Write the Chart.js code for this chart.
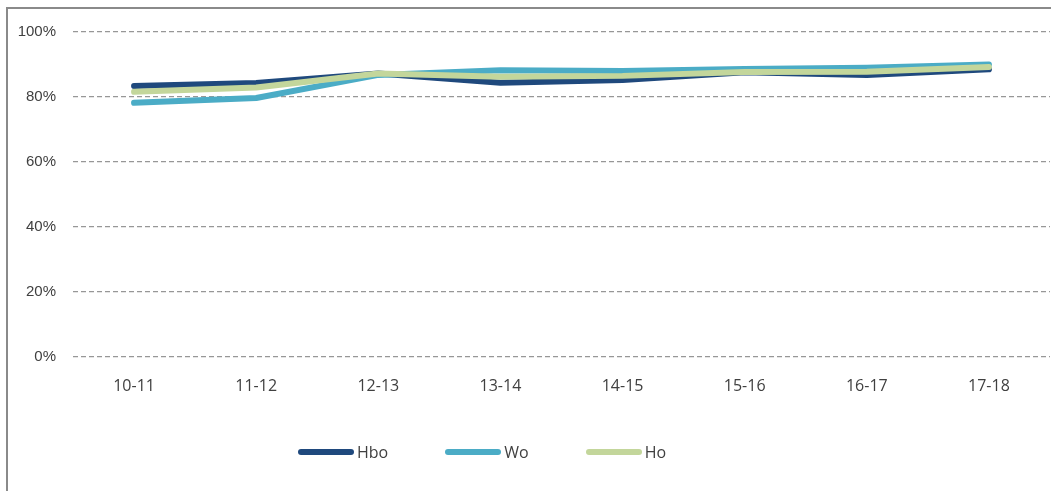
<!DOCTYPE html>
<html>
<head>
<meta charset="utf-8">
<script src="https://cdn.jsdelivr.net/npm/chart.js@4.4.1/dist/chart.umd.min.js"></script>
<style>
  body { margin: 0; background: #fff; }
  #frame {
    position: absolute; left: 6px; top: 7px; width: 1045px; height: 484px;
    border-top: 2px solid #8a8a8a; border-left: 2px solid #8a8a8a;
    box-sizing: border-box;
  }
  #mycanvas { position: absolute; left: 0; top: 0; }
  #legend {
    position: absolute; left: 290px; top: 432px;
    display: flex; font-family: "Open Sans", sans-serif; font-size: 16px; color: #404040;
  }
  .item { display: flex; align-items: center; margin-right: 57px; }
  .swatch { width: 56px; height: 6px; border-radius: 3px; margin-right: 3px; }
</style>
</head>
<body>
<div id="frame">
  <canvas id="mycanvas" width="1043" height="482"></canvas>
  <div id="legend"></div>
</div>
<script>
var years = ['10-11', '11-12', '12-13', '13-14', '14-15', '15-16', '16-17', '17-18'];
var seriesNames = ['Hbo', 'Wo', 'Ho'];
var seriesColors = ['#1F497D', '#4BACC6', '#C3D69B'];
var hbo = [83.4, 84.3, 87.2, 84.4, 85.2, 87.6, 86.8, 88.5];
var wo = [78.2, 79.7, 86.8, 88.2, 88.0, 88.6, 89.0, 90.0];
var ho = [81.6, 82.9, 87.2, 86.2, 86.5, 87.7, 87.8, 89.2];
var yTicks = [0, 20, 40, 60, 80, 100];

var seriesData = [hbo, wo, ho];
var datasets = [];
for (var i in seriesNames) {
	datasets.push({
		label : seriesNames[i],
		data : seriesData[i],
		borderColor : seriesColors[i],
		backgroundColor : seriesColors[i],
		borderWidth : 6,
		borderCapStyle : 'round',
		borderJoinStyle : 'round',
		pointRadius : 0,
		tension : 0,
		order : seriesNames.length - i   // Ho drawn on top
	});
}

// html legend, same order as the data
var legendBox = document.getElementById('legend');
for (var i in seriesNames) {
	var item = document.createElement('div');
	item.className = 'item';
	item.innerHTML = '<span class="swatch" style="background:' + seriesColors[i] + '"></span><span>' + seriesNames[i] + '</span>';
	legendBox.appendChild(item);
}

var ctx = document.getElementById('mycanvas');
var lineGraph = new Chart(ctx, {
	type : 'line',
	data : { labels : years, datasets : datasets },
	options : {
		responsive : false,
		animation : false,
		layout : { padding : { top : 23, right : 1, bottom : 0, left : 0 } },
		plugins : { legend : { display : false }, tooltip : { enabled : false } },
		scales : {
			x : {
				offset : true,
				grid : { display : false },
				border : { display : false },
				ticks : { color : '#404040', padding : 12, maxRotation : 0, font : { family : 'Open Sans', size : 16 } },
				afterFit : function(scale) { scale.height = 134; }
			},
			y : {
				min : 0, max : 100,
				afterBuildTicks : function(scale) { scale.ticks = yTicks.map(function(v){ return { value : v }; }); },
				grid : { color : '#979797', lineWidth : 1.3, drawTicks : false },
				border : { display : false, dash : [5, 3] },
				ticks : {
					color : '#404040', padding : 17,
					font : { family : 'Liberation Sans', size : 15 },
					callback : function(v) { return v + '%'; }
				},
				afterFit : function(scale) {
					scale.width = 65;
					scale.paddingTop = 0;
					scale.paddingBottom = 0;
				}
			}
		}
	}
});
</script>
</body>
</html>
